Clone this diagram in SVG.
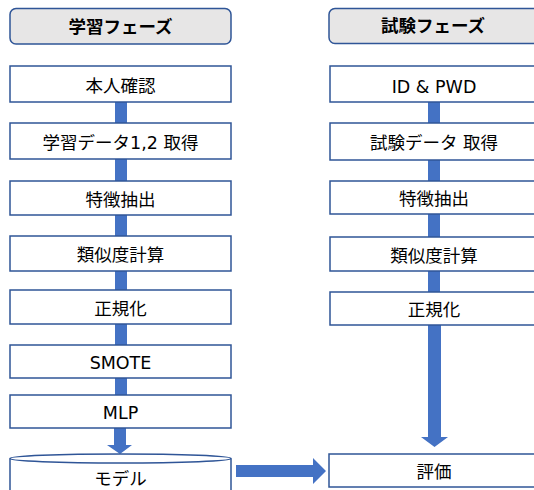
<svg xmlns="http://www.w3.org/2000/svg" width="534" height="490" viewBox="0 0 534 490">
<style>
.hdr{fill:#e7e6e6;stroke:#2f5597;stroke-width:1.5}
.box{fill:#ffffff;stroke:#2f5597;stroke-width:1.5}
.t{font-family:"DejaVu Sans","Noto Sans CJK JP",sans-serif;font-size:17.5px;fill:#000;text-anchor:middle}
.b{font-weight:bold}
.c{fill:#4472c4}
</style>
<rect width="534" height="490" fill="#ffffff"/>
<g id="connectors">
<rect class="c" x="115" y="102" width="12" height="21"/>
<rect class="c" x="115" y="159" width="12" height="22"/>
<rect class="c" x="115" y="215" width="12" height="21"/>
<rect class="c" x="115" y="271" width="12" height="19"/>
<rect class="c" x="115" y="324" width="12" height="21"/>
<rect class="c" x="115" y="378" width="12" height="17"/>
<polygon class="c" points="114,428 126,428 126,445 132,445 120,454 107,445 114,445"/>
<rect class="c" x="428" y="102" width="12" height="21"/>
<rect class="c" x="428" y="160" width="12" height="21"/>
<rect class="c" x="428" y="214" width="12" height="23"/>
<rect class="c" x="428" y="271" width="12" height="21"/>
<polygon class="c" points="428,325 441,325 441,437 448,437 434.5,447 421,437 428,437"/>
<polygon class="c" points="236,465 313,465 313,458 326,471 313,484 313,477 236,477"/>
</g>
<g id="learn-header"><rect class="hdr" x="10" y="8.5" width="221" height="35.5" rx="6"/><text class="t b" x="120.5" y="32.5">学習フェーズ</text></g>
<g id="test-header"><rect class="hdr" x="329" y="8.5" width="212" height="35" rx="6"/><text class="t b" x="433" y="32">試験フェーズ</text></g>
<g id="l1"><rect class="box" x="10" y="66" width="221" height="36"/><text class="t" x="120.5" y="92">本人確認</text></g>
<g id="l2"><rect class="box" x="10" y="123" width="221" height="36"/><text class="t" x="120.5" y="149">学習データ1,2 取得</text></g>
<g id="l3"><rect class="box" x="10" y="181" width="221" height="34"/><text class="t" x="120.5" y="205.5">特徴抽出</text></g>
<g id="l4"><rect class="box" x="10" y="236" width="221" height="35"/><text class="t" x="120.5" y="261">類似度計算</text></g>
<g id="l5"><rect class="box" x="10" y="290" width="221" height="34"/><text class="t" x="120.5" y="314.5">正規化</text></g>
<g id="l6"><rect class="box" x="10" y="345" width="221" height="33"/><text class="t" x="120.5" y="368.5">SMOTE</text></g>
<g id="l7"><rect class="box" x="10" y="395" width="221" height="33"/><text class="t" x="120.5" y="418.5">MLP</text></g>
<g id="model">
<path class="box" d="M10,458.5 V494 A110.5,4.5 0 0 0 231,494 V458.5"/>
<ellipse class="box" cx="120.5" cy="458.5" rx="110.5" ry="4.5"/>
<text class="t" x="120.5" y="485">モデル</text>
</g>
<g id="r1"><rect class="box" x="330" y="66" width="208" height="36"/><text class="t" x="434" y="92.5">ID &amp; PWD</text></g>
<g id="r2"><rect class="box" x="330" y="123" width="208" height="37"/><text class="t" x="434" y="149">試験データ 取得</text></g>
<g id="r3"><rect class="box" x="330" y="181" width="208" height="33"/><text class="t" x="434" y="204.5">特徴抽出</text></g>
<g id="r4"><rect class="box" x="330" y="237" width="208" height="34"/><text class="t" x="434" y="261.5">類似度計算</text></g>
<g id="r5"><rect class="box" x="330" y="292" width="208" height="33"/><text class="t" x="434" y="315.5">正規化</text></g>
<g id="eval"><rect class="box" x="329" y="454" width="209" height="33"/><text class="t" x="434" y="477.5">評価</text></g>
</svg>
